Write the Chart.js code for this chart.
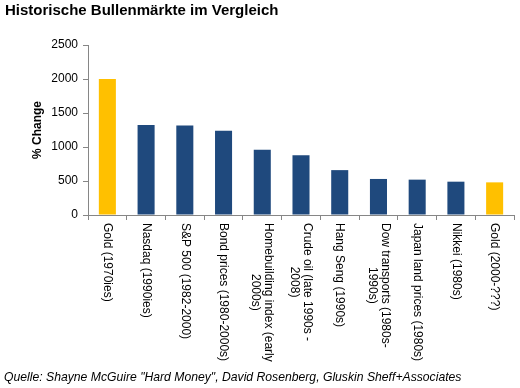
<!DOCTYPE html>
<html lang="de">
<head>
  <meta charset="UTF-8">
  <title>Historische Bullenmärkte im Vergleich</title>
  <script src="https://cdn.jsdelivr.net/npm/chart.js"></script>
  <style>
    html, body {
      margin: 0;
      padding: 0;
      width: 520px;
      height: 388px;
      overflow: hidden;
      background: #fff;
      font-family: "Liberation Sans", Arial, sans-serif;
    }
    #title {
      position: absolute;
      left: 5px;
      top: 1px;
      font-weight: bold;
      font-size: 15px;
      color: #000;
    }
    #source {
      position: absolute;
      left: 4px;
      top: 370px;
      font-style: italic;
      font-size: 12.2px;
      color: #000;
    }
    #wrap {
      position: absolute;
      left: 0;
      top: 0;
      width: 520px;
      height: 388px;
    }
  </style>
</head>
<body>
  <div id="wrap"><canvas id="bullChart"></canvas></div>
  <div id="title">Historische Bullenmärkte im Vergleich</div>
  <div id="source">Quelle: Shayne McGuire "Hard Money", David Rosenberg, Gluskin Sheff+Associates</div>

  <script>
    const categories = [
      ['Gold (1970ies)'],
      ['Nasdaq (1990ies)'],
      ['S&P 500 (1982-2000)'],
      ['Bond prices (1980-2000s)'],
      ['Homebuilding index (early', '2000s)'],
      ['Crude oil (late 1990s -', '2008)'],
      ['Hang Seng (1990s)'],
      ['Dow transports (1980s-', '1990s)'],
      ['Japan land prices (1980s)'],
      ['Nikkei (1980s)'],
      ['Gold (2000-???)']
    ];
    const pctChange = [2000, 1325, 1315, 1240, 960, 880, 660, 530, 520, 490, 480];
    const yTicks = [0, 500, 1000, 1500, 2000, 2500];

    const gold = '#FFC000';
    const navy = '#1F497D';
    const barColors = categories.map(c => c[0].startsWith('Gold') ? gold : navy);

    // draws the x labels rotated clockwise, reading top to bottom like the original
    const xLabelPlugin = {
      id: 'xLabels',
      afterDraw(chart) {
        const ctx = chart.ctx;
        const xs = chart.scales.x;
        const lineH = 13;
        ctx.save();
        ctx.font = '12px "Liberation Sans", Arial, sans-serif';
        ctx.fillStyle = '#000';
        ctx.textBaseline = 'middle';
        ctx.textAlign = 'center';
        categories.forEach((lines, i) => {
          const x = xs.getPixelForValue(i);
          const y = xs.top + 8;
          const maxW = Math.max(...lines.map(l => ctx.measureText(l).width));
          ctx.save();
          ctx.translate(x, y);
          ctx.rotate(Math.PI / 2);
          lines.forEach((l, j) => {
            const off = (j - (lines.length - 1) / 2) * lineH;
            ctx.fillText(l, maxW / 2, off);
          });
          ctx.restore();
        });

        // y axis title
        const ca = chart.chartArea;
        ctx.font = 'bold 12px "Liberation Sans", Arial, sans-serif';
        ctx.translate(38, (ca.top + ca.bottom) / 2);
        ctx.rotate(-Math.PI / 2);
        ctx.fillText('% Change', 0, 0);
        ctx.restore();
      }
    };

    new Chart(document.getElementById('bullChart'), {
      type: 'bar',
      data: {
        labels: categories.map(c => c.join(' ')),
        datasets: [{
          data: pctChange,
          backgroundColor: barColors,
          barPercentage: 0.44,
          categoryPercentage: 1
        }]
      },
      options: {
        responsive: true,
        maintainAspectRatio: false,
        animation: false,
        layout: {
          padding: { left: 0, top: 45, right: 6, bottom: 0 }
        },
        plugins: {
          legend: { display: false },
          tooltip: { enabled: false }
        },
        scales: {
          x: {
            grid: {
              offset: true,
              drawOnChartArea: false,
              tickLength: 5,
              color: '#868686'
            },
            border: { color: '#868686' },
            ticks: { display: false },
            afterFit(scale) { scale.height = 173; }
          },
          y: {
            min: 0,
            max: 2500,
            afterBuildTicks(scale) {
              scale.ticks = yTicks.map(v => ({ value: v }));
            },
            grid: {
              drawOnChartArea: false,
              tickLength: 5,
              color: '#868686'
            },
            border: { color: '#868686' },
            ticks: {
              padding: 5,
              color: '#000',
              callback: v => String(v),
              font: { family: '"Liberation Sans", Arial, sans-serif', size: 12 }
            },
            afterFit(scale) { scale.width = 88; }
          }
        }
      },
      plugins: [xLabelPlugin]
    });
  </script>
</body>
</html>
